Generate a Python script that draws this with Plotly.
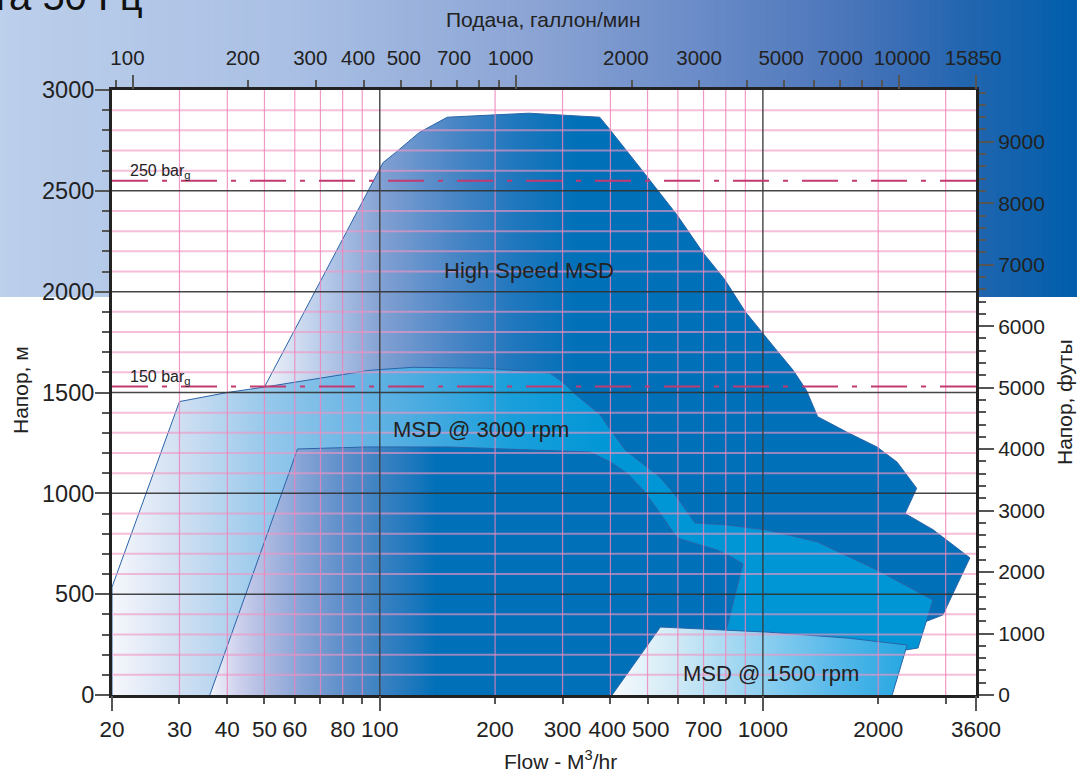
import numpy as np
import plotly.graph_objects as go

# ---------------- data (flow m3/hr, head m) ----------------
hs_flow = [50, 50, 66, 102, 110, 127, 150, 245, 375, 400, 487, 597, 700, 795, 900, 995,
           1075, 1200, 1300, 1390, 1670, 1985, 2240, 2520, 2350, 2780, 3470, 2950, 1690]
hs_head = [0, 1527, 1960, 2640, 2690, 2790, 2865, 2885, 2865, 2800, 2595, 2380, 2190, 2060, 1900, 1795,
           1720, 1610, 1510, 1380, 1300, 1230, 1155, 1025, 900, 820, 680, 397, 220]

m3000_flow = [20, 20, 30, 40, 50, 70, 94, 122, 190, 278, 300, 320, 376, 400, 437, 498, 539, 597,
              665, 806, 1025, 1384, 1985, 2780, 2540, 2300, 1690]
m3000_head = [0, 535, 1455, 1500, 1527, 1572, 1610, 1625, 1620, 1597, 1552, 1500, 1390, 1315, 1215, 1130, 1080, 980,
              853, 843, 818, 760, 620, 471, 233, 220, 0]

core_flow = [36, 61, 93, 152, 295, 354, 400, 442, 487, 539, 597, 657, 759, 836, 887, 806, 685]
core_head = [0, 1220, 1230, 1230, 1210, 1205, 1155, 1100, 1017, 902, 779, 754, 719, 680, 650, 337, 0]

m1500_flow = [404, 540, 1025, 1670, 2380, 2175]
m1500_head = [0, 337, 312, 282, 248, 0]

bar_lines_head = [2550, 1530]
bar_labels = ["250 bar<sub>g</sub>", "150 bar<sub>g</sub>"]

bottom_ticks = [20, 30, 40, 50, 60, 80, 100, 200, 300, 400, 500, 700, 1000, 2000, 3600]
bottom_minor = [70, 90, 600, 800, 900, 3000]
bottom_long = [20, 100, 1000, 3600]
top_ticks = [100, 200, 300, 400, 500, 700, 1000, 2000, 3000, 5000, 7000, 10000, 15850]
top_minor = [90, 600, 800, 900, 4000, 6000, 8000, 9000]
top_long = [100, 1000, 10000, 15850]
feet_ticks = list(range(0, 10000, 1000))

grid_pink_x = [30, 40, 50, 60, 70, 80, 90, 200, 300, 400, 500, 600, 700, 800, 900, 2000, 3000]
grid_dark_x = [100, 1000]
grid_pink_y = [h for h in range(100, 3000, 100) if h % 500]
grid_dark_y = [500, 1000, 1500, 2000, 2500]

X_MIN, X_MAX = 20, 3600
Y_MAX = 3000
M3H_TO_GPM = 4.402868
M_TO_FT = 3.28084

FONT = "Liberation Sans, Arial, Helvetica, sans-serif"
NB = "\u00a0"

# small label nudges (number of non-breaking spaces before / after a tick label)
bottom_pad = {400: (0, 1), 500: (1, 0)}
top_pad = {100: (0, 2), 200: (0, 2), 300: (0, 2), 400: (0, 2), 500: (1, 0), 700: (0, 1), 1000: (0, 2),
           2000: (0, 2), 5000: (0, 1), 10000: (1, 0), 15850: (0, 1)}


def label(v, pads):
    a, b = pads.get(v, (0, 0))
    return NB * a + str(v) + NB * b


fig = go.Figure()


def poly(xs, ys, start, stop, scale):
    return go.Scatter(
        x=xs, y=ys, mode="lines", fill="toself",
        line=dict(color="#2a64a8", width=1),
        fillgradient=dict(type="horizontal", colorscale=scale, start=start, stop=stop),
        hoverinfo="skip", showlegend=False,
    )


fig.add_trace(poly(hs_flow, hs_head, 50, 330,
                   [[0, "#eef2fa"], [0.2, "#b4c8e8"], [0.38, "#809fd2"], [0.6, "#4a86c6"],
                    [0.8, "#1f77bd"], [1, "#0070b8"]]))
fig.add_trace(poly(m3000_flow, m3000_head, 20, 400,
                   [[0, "#f6f7fc"], [0.14, "#cfdff2"], [0.32, "#94c7eb"], [0.55, "#5cb0e2"],
                    [0.8, "#1a9fdb"], [1, "#0096d6"]]))
fig.add_trace(poly(core_flow, core_head, 36, 140,
                   [[0, "#f2f2fa"], [0.13, "#cdd0ec"], [0.26, "#aab8e0"], [0.4, "#88a4d6"],
                    [0.58, "#5f90ca"], [0.75, "#3d82c2"], [0.92, "#1876bc"], [1, "#0070b8"]]))
fig.add_trace(poly(m1500_flow, m1500_head, 404, 2300,
                   [[0, "#f6fafd"], [0.2, "#d4ebf6"], [0.4, "#a9daf2"], [0.6, "#7cc8ee"],
                    [0.8, "#50b6e8"], [1, "#29a8e1"]]))


def grid_trace(vals, vertical, color, width):
    xs, ys = [], []
    for v in vals:
        if vertical:
            xs += [v, v, None]
            ys += [0, Y_MAX, None]
        else:
            xs += [X_MIN, X_MAX, None]
            ys += [v, v, None]
    return go.Scatter(x=xs, y=ys, mode="lines", line=dict(color=color, width=width),
                      hoverinfo="skip", showlegend=False)


fig.add_trace(grid_trace(grid_pink_y, False, "rgba(240,150,195,0.62)", 2))
fig.add_trace(grid_trace(grid_pink_x, True, "rgba(238,130,185,0.82)", 1.2))
fig.add_trace(grid_trace(grid_dark_y, False, "rgba(50,50,50,0.9)", 1.5))
fig.add_trace(grid_trace(grid_dark_x, True, "rgba(60,60,60,0.9)", 1.5))

for h in bar_lines_head:
    fig.add_trace(go.Scatter(x=[X_MIN, X_MAX], y=[h, h], mode="lines",
                             line=dict(color="#c23a70", width=2, dash="36px,14px,5px,14px"),
                             hoverinfo="skip", showlegend=False))

# dummy traces so overlay axes exist
for xa, ya in [("x2", "y"), ("x3", "y"), ("x4", "y"), ("x", "y2")]:
    fig.add_trace(go.Scatter(x=[100 if xa in ("x", "x3") else 1000], y=[100], xaxis=xa, yaxis=ya,
                             mode="markers", marker=dict(size=1, opacity=0),
                             hoverinfo="skip", showlegend=False))

# ---------------- banner background ----------------
W, H = 1077, 774
L, R, T, B = 112, 101, 90, 79
pw, ph = W - L - R, H - T - B
banner_stops = [(0, (188, 207, 235)), (300, (169, 191, 228)), (540, (138, 163, 212)),
                (700, (106, 140, 200)), (850, (74, 117, 186)), (960, (37, 102, 176)), (1077, (0, 94, 171))]
shapes = []
N = 160
for i in range(N):
    px0 = W * i / N - 0.3
    px1 = W * (i + 1) / N + 0.6
    pc = (px0 + px1) / 2
    c = banner_stops[-1][1]
    for j in range(len(banner_stops) - 1):
        a, ca = banner_stops[j]
        b, cb = banner_stops[j + 1]
        if a <= pc <= b:
            t = (pc - a) / (b - a)
            c = tuple(int(round(ca[k] + (cb[k] - ca[k]) * t)) for k in range(3))
            break
    shapes.append(dict(type="rect", xref="paper", yref="paper", layer="below",
                       x0=(px0 - L) / pw, x1=(px1 - L) / pw,
                       y0=(H - B - 297) / ph, y1=(H - B) / ph + 0.01,
                       fillcolor="rgb(%d,%d,%d)" % c, line=dict(width=0)))
shapes.append(dict(type="rect", xref="paper", yref="paper", layer="below",
                   x0=0, x1=1, y0=0, y1=1, fillcolor="white", line=dict(width=0)))


def px_x(px):
    return (px - L) / pw


def px_y(py):
    return (H - B - py) / ph


# ---------------- annotations ----------------
ann = []
ann.append(dict(text="Частота 50 Гц", xref="paper", yref="paper", x=px_x(145), y=px_y(20),
                xanchor="right", yanchor="bottom", showarrow=False, font=dict(size=40, color="#111")))
for txt, fx, hy in [("High Speed MSD", 245, 2105), ("MSD @ 3000 rpm", 184, 1315), ("MSD @ 1500 rpm", 1050, 105)]:
    ann.append(dict(text=txt, x=np.log10(fx), y=hy, xref="x", yref="y", showarrow=False,
                    xanchor="center", yanchor="middle", font=dict(size=22, color="#222")))
for txt, h in zip(bar_labels, bar_lines_head):
    ann.append(dict(text=txt, x=np.log10(22.0), y=h + 45, xref="x", yref="y", xanchor="left",
                    yanchor="middle", showarrow=False, font=dict(size=16, color="#222")))
ann.append(dict(text="Flow - M<sup>3</sup>/hr", xref="paper", yref="paper", x=px_x(560), y=px_y(775),
                xanchor="center", yanchor="bottom", showarrow=False, font=dict(size=21, color="#222")))
ann.append(dict(text="Подача, галлон/мин", xref="paper", yref="paper", x=px_x(543), y=px_y(20),
                xanchor="center", yanchor="middle", showarrow=False, font=dict(size=21, color="#222")))
ann.append(dict(text="Напор, м", xref="paper", yref="paper", x=px_x(20), y=px_y(390),
                xanchor="center", yanchor="middle", showarrow=False, textangle=-90,
                font=dict(size=21, color="#222")))
ann.append(dict(text="Напор, футы", xref="paper", yref="paper", x=px_x(1064), y=px_y(402),
                xanchor="center", yanchor="middle", showarrow=False, textangle=-90,
                font=dict(size=21, color="#222")))

xr = [np.log10(X_MIN), np.log10(X_MAX)]
xr_top = [np.log10(X_MIN * M3H_TO_GPM), np.log10(X_MAX * M3H_TO_GPM)]
AX = "#222"
TK = "#555"

fig.update_layout(
    width=W, height=H, margin=dict(l=L, r=R, t=T, b=B, autoexpand=False),
    paper_bgcolor="white", plot_bgcolor="rgba(0,0,0,0)",
    showlegend=False, font=dict(family=FONT, color="#222", size=22),
    shapes=shapes, annotations=ann,
    xaxis=dict(type="log", range=xr, tickmode="array", tickvals=bottom_ticks, automargin=False, tickangle=0,
               ticktext=[label(v, bottom_pad) for v in bottom_ticks], ticks="outside", ticklen=6, tickwidth=1.5,
               tickcolor=TK, showgrid=False, zeroline=False, showline=True, linecolor=AX, linewidth=3,
               tickfont=dict(size=22.5, color="#222"), ticklabelstandoff=6,
               minor=dict(tickmode="array", tickvals=bottom_minor, ticks="outside", ticklen=6,
                          tickwidth=1.5, tickcolor=TK, showgrid=False)),
    xaxis3=dict(type="log", range=xr, overlaying="x", side="bottom", anchor="y", tickmode="array",
                tickvals=bottom_long, ticks="outside", ticklen=15, tickwidth=1.5, tickcolor=TK, automargin=False,
                showticklabels=False, showgrid=False, zeroline=False, showline=False),
    xaxis2=dict(type="log", range=xr_top, overlaying="x", side="top", anchor="y", tickmode="array",
                tickvals=top_ticks, ticktext=[label(v, top_pad) for v in top_ticks], ticks="outside", ticklen=7,
                automargin=False, tickangle=0,
                tickwidth=1.5, tickcolor=TK, showgrid=False, zeroline=False, showline=True,
                linecolor=AX, linewidth=3, tickfont=dict(size=20.5, color="#222"), ticklabelstandoff=7,
                minor=dict(tickmode="array", tickvals=top_minor, ticks="outside", ticklen=7,
                           tickwidth=1.5, tickcolor=TK, showgrid=False)),
    xaxis4=dict(type="log", range=xr_top, overlaying="x", side="top", anchor="y", tickmode="array",
                tickvals=top_long, ticks="outside", ticklen=14, tickwidth=1.5, tickcolor=TK, automargin=False,
                showticklabels=False, showgrid=False, zeroline=False, showline=False),
    yaxis=dict(range=[0, Y_MAX], tickmode="linear", tick0=0, dtick=500, ticks="outside", ticklen=14,
               automargin=False, ticklabelstandoff=-4,
               tickwidth=1.5, tickcolor=TK, showgrid=False, zeroline=False, showline=True,
               linecolor=AX, linewidth=3, tickfont=dict(size=23.5, color="#222"),
               minor=dict(dtick=100, ticks="outside", ticklen=7, tickwidth=1.5, tickcolor=TK, showgrid=False)),
    yaxis2=dict(range=[0, Y_MAX * M_TO_FT], overlaying="y", side="right", anchor="x", tickmode="array",
                tickvals=feet_ticks, ticks="outside", ticklen=15, tickwidth=1.5, tickcolor=TK, automargin=False,
                showgrid=False, zeroline=False, showline=True, linecolor=AX, linewidth=3,
                tickfont=dict(size=21, color="#222"),
                minor=dict(dtick=200, tick0=0, ticks="outside", ticklen=7, tickwidth=1.5, tickcolor=TK,
                           showgrid=False)),
)

fig.write_html("out.html", config={"displayModeBar": False},
               post_script="document.body.style.margin='0px';document.body.style.overflow='hidden';")
